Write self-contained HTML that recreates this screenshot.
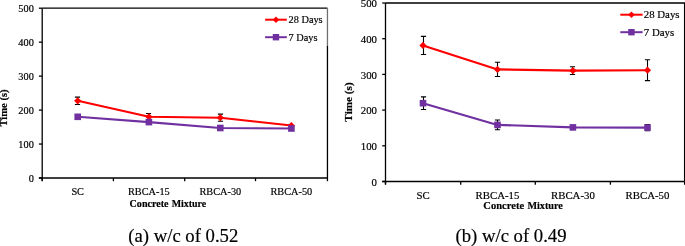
<!DOCTYPE html>
<html><head><meta charset="utf-8"><style>
html,body{margin:0;padding:0;background:#fff;width:685px;height:246px;overflow:hidden}
svg{display:block;will-change:transform}
text{font-family:"Liberation Serif", serif;fill:#000;stroke:#000;stroke-width:0.18px}
</style></head><body>
<svg width="685" height="246" viewBox="0 0 685 246">
<rect width="685" height="246" fill="#fff"/>
<path d="M42.2 8.2H327.45" fill="none" stroke="#000" stroke-width="1.3"/>
<path d="M327.45 8.2V45.8" fill="none" stroke="#707070" stroke-width="1.3"/>
<path d="M327.45 45.8V178" fill="none" stroke="#000" stroke-width="1.3"/>
<path d="M42.2 8.2V181M38.900000000000006 178H327.45" fill="none" stroke="#000" stroke-width="1.3"/>
<path d="M38.900000000000006 178.00H42.2" stroke="#000" stroke-width="1.3"/>
<text x="33.8" y="181.60" text-anchor="end" font-size="10.3">0</text>
<path d="M38.900000000000006 144.04H42.2" stroke="#000" stroke-width="1.3"/>
<text x="33.8" y="147.64" text-anchor="end" font-size="10.3">100</text>
<path d="M38.900000000000006 110.08H42.2" stroke="#000" stroke-width="1.3"/>
<text x="33.8" y="113.68" text-anchor="end" font-size="10.3">200</text>
<path d="M38.900000000000006 76.12H42.2" stroke="#000" stroke-width="1.3"/>
<text x="33.8" y="79.72" text-anchor="end" font-size="10.3">300</text>
<path d="M38.900000000000006 42.16H42.2" stroke="#000" stroke-width="1.3"/>
<text x="33.8" y="45.76" text-anchor="end" font-size="10.3">400</text>
<path d="M38.900000000000006 8.20H42.2" stroke="#000" stroke-width="1.3"/>
<text x="33.8" y="11.80" text-anchor="end" font-size="10.3">500</text>
<path d="M42.20 178V181.2" stroke="#000" stroke-width="1.3"/>
<path d="M113.40 178V181.2" stroke="#000" stroke-width="1.3"/>
<path d="M184.70 178V181.2" stroke="#000" stroke-width="1.3"/>
<path d="M255.50 178V181.2" stroke="#000" stroke-width="1.3"/>
<path d="M327.45 178V181.2" stroke="#000" stroke-width="1.3"/>
<text x="77.70" y="194.5" text-anchor="middle" font-size="10.3">SC</text>
<text x="148.90" y="194.5" text-anchor="middle" font-size="10.3">RBCA-15</text>
<text x="220.30" y="194.5" text-anchor="middle" font-size="10.3">RBCA-30</text>
<text x="291.40" y="194.5" text-anchor="middle" font-size="10.3">RBCA-50</text>
<text x="129.6" y="207.3" font-size="10.4" font-weight="bold" textLength="39" lengthAdjust="spacingAndGlyphs">Concrete</text>
<text x="171.7" y="207.3" font-size="10.4" font-weight="bold" textLength="34.5" lengthAdjust="spacingAndGlyphs">Mixture</text>
<text transform="translate(7.2 108) rotate(-90)" text-anchor="middle" font-size="10.6" font-weight="bold">Time (s)</text>
<polyline points="77.70,100.80 148.90,116.80 220.30,117.70 291.40,125.50" fill="none" stroke="#ff0000" stroke-width="2.1" stroke-linejoin="round"/>
<polyline points="77.70,116.80 148.90,122.10 220.30,128.00 291.40,128.50" fill="none" stroke="#7030a0" stroke-width="2.1" stroke-linejoin="round"/>
<path d="M77.50 97.10V104.50M74.90 97.10h5.2M74.90 104.50h5.2" stroke="#000" stroke-width="1.1" fill="none"/>
<path d="M148.50 113.50V120.10M145.90 113.50h5.2M145.90 120.10h5.2" stroke="#000" stroke-width="1.1" fill="none"/>
<path d="M220.50 114.10V121.30M217.90 114.10h5.2M217.90 121.30h5.2" stroke="#000" stroke-width="1.1" fill="none"/>
<path d="M77.70 97.20L81.30 100.80L77.70 104.40L74.10 100.80Z" fill="#ff0000"/>
<path d="M148.90 113.20L152.50 116.80L148.90 120.40L145.30 116.80Z" fill="#ff0000"/>
<path d="M220.30 114.10L223.90 117.70L220.30 121.30L216.70 117.70Z" fill="#ff0000"/>
<path d="M291.40 121.90L295.00 125.50L291.40 129.10L287.80 125.50Z" fill="#ff0000"/>
<rect x="74.40" y="113.50" width="6.60" height="6.60" fill="#7030a0"/>
<rect x="145.60" y="118.80" width="6.60" height="6.60" fill="#7030a0"/>
<rect x="217.00" y="124.70" width="6.60" height="6.60" fill="#7030a0"/>
<rect x="288.10" y="125.20" width="6.60" height="6.60" fill="#7030a0"/>
<path d="M265.1 19.7H286.8" stroke="#ff0000" stroke-width="2"/>
<path d="M275.95 16.50L279.15 19.70L275.95 22.90L272.75 19.70Z" fill="#ff0000"/>
<text x="288.6" y="23.099999999999998" font-size="10.3">28 Days</text>
<path d="M265.1 37.2H286.8" stroke="#7030a0" stroke-width="2"/>
<rect x="272.75" y="34.00" width="6.40" height="6.40" fill="#7030a0"/>
<text x="288.6" y="40.800000000000004" font-size="10.3">7 Days</text>
<text x="128.3" y="241.5" font-size="18.7">(a) w/c of 0.52</text>
<path d="M385.5 3H684.6V181.5" fill="none" stroke="#000" stroke-width="1.3"/>
<path d="M385.5 3V184.5M382.2 181.5H684.6" fill="none" stroke="#000" stroke-width="1.3"/>
<path d="M382.2 181.50H385.5" stroke="#000" stroke-width="1.3"/>
<text x="377.0" y="185.70" text-anchor="end" font-size="10.8">0</text>
<path d="M382.2 145.80H385.5" stroke="#000" stroke-width="1.3"/>
<text x="377.0" y="150.00" text-anchor="end" font-size="10.8">100</text>
<path d="M382.2 110.10H385.5" stroke="#000" stroke-width="1.3"/>
<text x="377.0" y="114.30" text-anchor="end" font-size="10.8">200</text>
<path d="M382.2 74.40H385.5" stroke="#000" stroke-width="1.3"/>
<text x="377.0" y="78.60" text-anchor="end" font-size="10.8">300</text>
<path d="M382.2 38.70H385.5" stroke="#000" stroke-width="1.3"/>
<text x="377.0" y="42.90" text-anchor="end" font-size="10.8">400</text>
<path d="M382.2 3.00H385.5" stroke="#000" stroke-width="1.3"/>
<text x="377.0" y="7.20" text-anchor="end" font-size="10.8">500</text>
<path d="M385.50 181.5V184.7" stroke="#000" stroke-width="1.3"/>
<path d="M460.70 181.5V184.7" stroke="#000" stroke-width="1.3"/>
<path d="M535.30 181.5V184.7" stroke="#000" stroke-width="1.3"/>
<path d="M610.40 181.5V184.7" stroke="#000" stroke-width="1.3"/>
<path d="M684.60 181.5V184.7" stroke="#000" stroke-width="1.3"/>
<text x="423.00" y="198.5" text-anchor="middle" font-size="10.8">SC</text>
<text x="497.50" y="198.5" text-anchor="middle" font-size="10.8">RBCA-15</text>
<text x="572.90" y="198.5" text-anchor="middle" font-size="10.8">RBCA-30</text>
<text x="647.50" y="198.5" text-anchor="middle" font-size="10.8">RBCA-50</text>
<text x="483.3" y="208.5" font-size="10.8" font-weight="bold" textLength="40.8" lengthAdjust="spacingAndGlyphs">Concrete</text>
<text x="527.4" y="208.5" font-size="10.8" font-weight="bold" textLength="35.4" lengthAdjust="spacingAndGlyphs">Mixture</text>
<text transform="translate(351.5 102) rotate(-90)" text-anchor="middle" font-size="11.2" font-weight="bold">Time (s)</text>
<polyline points="423.00,45.45 497.50,69.40 572.90,70.60 647.50,70.20" fill="none" stroke="#ff0000" stroke-width="2.1" stroke-linejoin="round"/>
<polyline points="423.00,103.20 497.50,124.90 572.90,127.40 647.50,127.60" fill="none" stroke="#7030a0" stroke-width="2.1" stroke-linejoin="round"/>
<path d="M423.50 36.40V54.50M420.90 36.40h5.2M420.90 54.50h5.2" stroke="#000" stroke-width="1.1" fill="none"/>
<path d="M497.50 62.30V76.50M494.90 62.30h5.2M494.90 76.50h5.2" stroke="#000" stroke-width="1.1" fill="none"/>
<path d="M572.50 66.70V74.50M569.90 66.70h5.2M569.90 74.50h5.2" stroke="#000" stroke-width="1.1" fill="none"/>
<path d="M647.50 59.80V80.60M644.90 59.80h5.2M644.90 80.60h5.2" stroke="#000" stroke-width="1.1" fill="none"/>
<path d="M423.00 41.85L426.60 45.45L423.00 49.05L419.40 45.45Z" fill="#ff0000"/>
<path d="M497.50 65.80L501.10 69.40L497.50 73.00L493.90 69.40Z" fill="#ff0000"/>
<path d="M572.90 67.00L576.50 70.60L572.90 74.20L569.30 70.60Z" fill="#ff0000"/>
<path d="M647.50 66.60L651.10 70.20L647.50 73.80L643.90 70.20Z" fill="#ff0000"/>
<path d="M423.50 96.85V109.55M420.90 96.85h5.2M420.90 109.55h5.2" stroke="#000" stroke-width="1.1" fill="none"/>
<path d="M497.50 120.05V129.75M494.90 120.05h5.2M494.90 129.75h5.2" stroke="#000" stroke-width="1.1" fill="none"/>
<path d="M647.50 124.50V130.70M644.90 124.50h5.2M644.90 130.70h5.2" stroke="#000" stroke-width="1.1" fill="none"/>
<rect x="419.70" y="99.90" width="6.60" height="6.60" fill="#7030a0"/>
<rect x="494.20" y="121.60" width="6.60" height="6.60" fill="#7030a0"/>
<rect x="569.60" y="124.10" width="6.60" height="6.60" fill="#7030a0"/>
<rect x="644.20" y="124.30" width="6.60" height="6.60" fill="#7030a0"/>
<path d="M620.3 14.7H642.6" stroke="#ff0000" stroke-width="2"/>
<path d="M631.45 11.50L634.65 14.70L631.45 17.90L628.25 14.70Z" fill="#ff0000"/>
<text x="643.8" y="18.099999999999998" font-size="10.8">28 Days</text>
<path d="M620.3 32.2H642.6" stroke="#7030a0" stroke-width="2"/>
<rect x="628.25" y="29.00" width="6.40" height="6.40" fill="#7030a0"/>
<text x="643.8" y="35.800000000000004" font-size="10.8">7 Days</text>
<text x="455.5" y="241.5" font-size="18.7">(b) w/c of 0.49</text>
</svg>
</body></html>
